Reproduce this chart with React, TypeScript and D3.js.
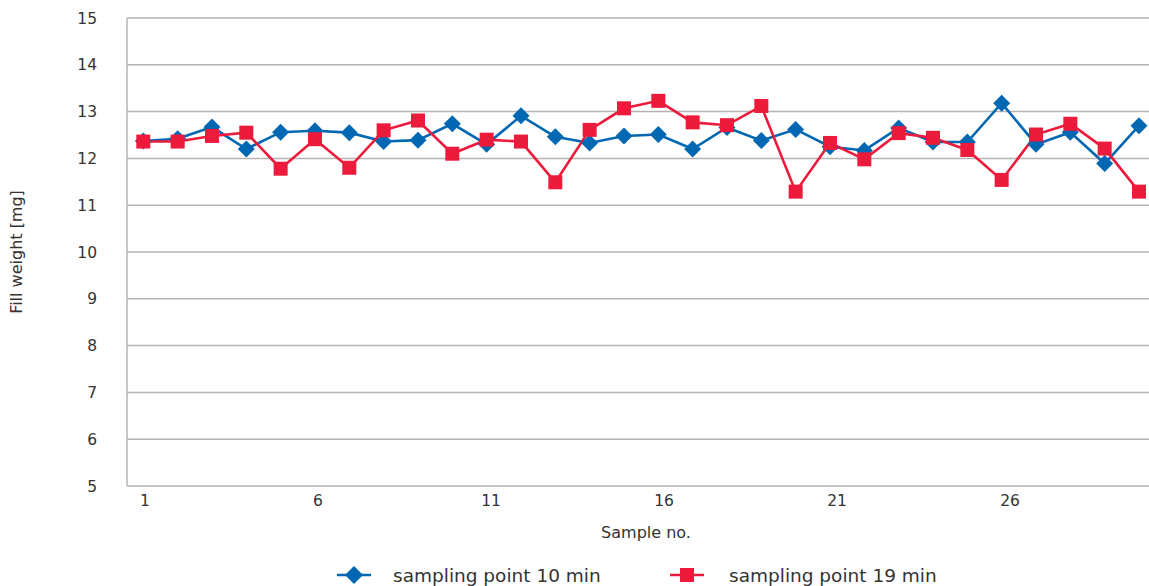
import React from "react";
import * as d3 from "d3";

const samples: number[] = Array.from({ length: 30 }, (_, i) => i + 1);
const xTickLabels: number[] = [1, 6, 11, 16, 21, 26];
const yTicks: number[] = [5, 6, 7, 8, 9, 10, 11, 12, 13, 14, 15];

const series10: number[] = [
  12.37, 12.42, 12.67, 12.2, 12.56, 12.59, 12.55, 12.36, 12.39, 12.74,
  12.3, 12.91, 12.46, 12.33, 12.48, 12.51, 12.2, 12.66, 12.38, 12.62,
  12.25, 12.17, 12.65, 12.35, 12.35, 13.18, 12.3, 12.56, 11.89, 12.7,
];
const series19: number[] = [
  12.36, 12.36, 12.48, 12.55, 11.78, 12.41, 11.8, 12.6, 12.81, 12.1,
  12.4, 12.36, 11.49, 12.61, 13.07, 13.23, 12.77, 12.71, 13.12, 11.29,
  12.33, 11.98, 12.54, 12.44, 12.18, 11.54, 12.51, 12.74, 12.21, 11.29,
];
const seriesNames: string[] = ["sampling point 10 min", "sampling point 19 min"];

const W = 1149;
const H = 586;
const left = 127;
const top = 18;
const bottom = 486;
const right = 1160;
const BLUE = "#0067b3";
const RED = "#ec1b3b";
const GRID = "#b4b4b4";
const FONT = "'DejaVu Sans', Verdana, sans-serif";
const TXT = "#333333";

export default function App() {
  const x = d3.scalePoint<number>().domain(samples).range([143.3, 1139]);
  const xLab = d3.scaleLinear().domain([1, 26]).range([145, 1010]);
  const y = d3.scaleLinear().domain([5, 15]).range([bottom, top]);
  const line = d3
    .line<number>()
    .x((_, i) => x(samples[i]) as number)
    .y((d) => y(d));

  const diamond = (cx: number, cy: number, r: number) =>
    `M${cx},${cy - r}L${cx + r},${cy}L${cx},${cy + r}L${cx - r},${cy}Z`;

  return (
    <svg
      width={W}
      height={H}
      style={{ position: "absolute", left: 0, top: 0, background: "#fff" }}
      fontFamily={FONT}
    >
      {yTicks.map((t) => (
        <g key={t}>
          <line x1={left} x2={right} y1={y(t)} y2={y(t)} stroke={GRID} strokeWidth={1.5} />
          <text x={97} y={y(t)} dy="0.36em" textAnchor="end" fontSize={15.5} fill={TXT}>
            {t}
          </text>
        </g>
      ))}
      <line x1={left} x2={left} y1={top} y2={bottom} stroke={GRID} strokeWidth={1.5} />
      {xTickLabels.map((t) => (
        <text key={t} x={xLab(t)} y={506} textAnchor="middle" fontSize={15.5} fill={TXT}>
          {t}
        </text>
      ))}
      <text x={646} y={538} textAnchor="middle" fontSize={16} fill={TXT}>
        Sample no.
      </text>
      <text
        transform={`translate(22,252) rotate(-90)`}
        textAnchor="middle"
        fontSize={16}
        fill={TXT}
      >
        Fill weight [mg]
      </text>

      <path d={line(series10) || ""} fill="none" stroke={BLUE} strokeWidth={2.6} />
      <path d={line(series19) || ""} fill="none" stroke={RED} strokeWidth={2.6} />
      {series10.map((v, i) => (
        <path key={"b" + i} d={diamond(x(samples[i]) as number, y(v), 8.5)} fill={BLUE} />
      ))}
      {series19.map((v, i) => (
        <rect
          key={"r" + i}
          x={(x(samples[i]) as number) - 7}
          y={y(v) - 7}
          width={14}
          height={14}
          fill={RED}
        />
      ))}

      <g>
        <line x1={337} x2={371} y1={575} y2={575} stroke={BLUE} strokeWidth={2.6} />
        <path d={diamond(354, 575, 9)} fill={BLUE} />
        <text x={393} y={582} fontSize={18.5} fill={TXT}>
          {seriesNames[0]}
        </text>
        <line x1={670} x2={704} y1={575} y2={575} stroke={RED} strokeWidth={2.6} />
        <rect x={680} y={568} width={14} height={14} fill={RED} />
        <text x={729} y={582} fontSize={18.5} fill={TXT}>
          {seriesNames[1]}
        </text>
      </g>
    </svg>
  );
}
